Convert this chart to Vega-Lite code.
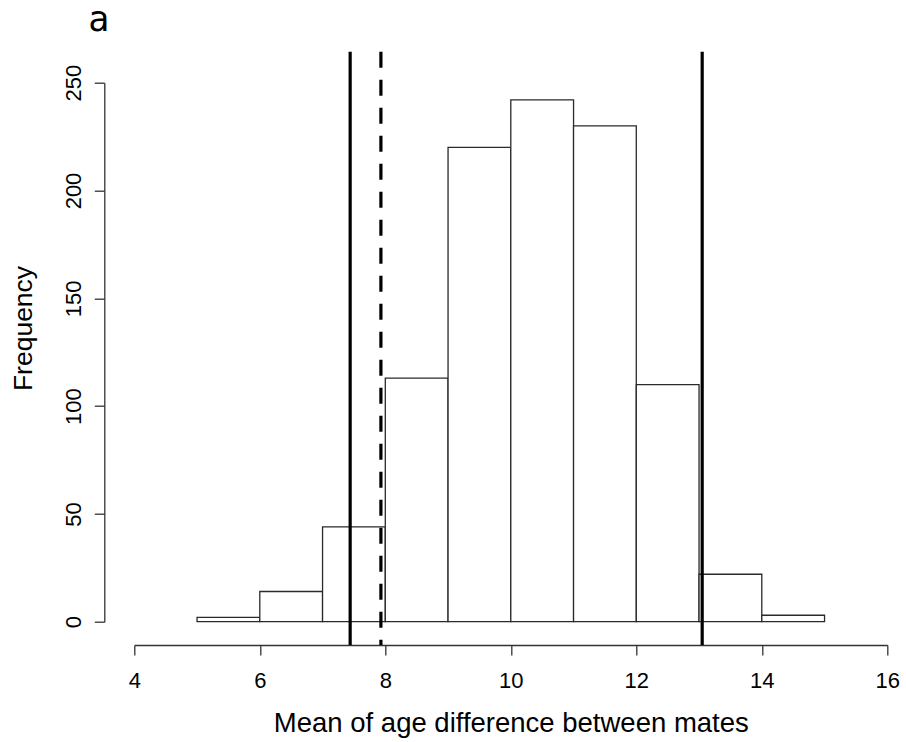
{
  "$schema": "https://vega.github.io/schema/vega-lite/v6.json",
  "autosize": "none",
  "padding": {"left": 134.3, "top": 82.7, "right": 18.7, "bottom": 120.3},
  "width": 753,
  "height": 539,
  "background": "white",
  "config": {
    "view": {"stroke": null},
    "font": "Liberation Sans"
  },
  "title": {
    "text": "a",
    "anchor": "start",
    "frame": "group",
    "orient": "top",
    "font": "DejaVu Sans Mono",
    "fontSize": 35,
    "fontWeight": "normal",
    "color": "#000",
    "baseline": "alphabetic",
    "dx": -46,
    "dy": 34,
    "offset": 18
  },
  "datasets": {
    "bars": [
      {"bin_start": 5, "bin_end": 6, "count": 2},
      {"bin_start": 6, "bin_end": 7, "count": 14},
      {"bin_start": 7, "bin_end": 8, "count": 44},
      {"bin_start": 8, "bin_end": 9, "count": 113},
      {"bin_start": 9, "bin_end": 10, "count": 220},
      {"bin_start": 10, "bin_end": 11, "count": 242},
      {"bin_start": 11, "bin_end": 12, "count": 230},
      {"bin_start": 12, "bin_end": 13, "count": 110},
      {"bin_start": 13, "bin_end": 14, "count": 22},
      {"bin_start": 14, "bin_end": 15, "count": 3}
    ],
    "lines": [
      {"value": 7.44, "kind": "solid"},
      {"value": 7.93, "kind": "dashed"},
      {"value": 13.05, "kind": "solid"}
    ]
  },
  "layer": [
    {
      "data": {"name": "bars"},
      "mark": {"type": "rect", "fill": "white", "stroke": "#2a2a2a", "strokeWidth": 1.3},
      "encoding": {
        "x": {
          "field": "bin_start",
          "type": "quantitative",
          "scale": {"domain": [4, 16], "nice": false, "zero": false},
          "title": "Mean of age difference between mates",
          "axis": {
            "values": [4, 6, 8, 10, 12, 14, 16],
            "format": "d",
            "offset": 23.3,
            "grid": false,
            "domainColor": "#333",
            "domainWidth": 1.3,
            "tickColor": "#333",
            "tickWidth": 1.3,
            "tickSize": 10,
            "labelFont": "Liberation Sans",
            "labelFontSize": 22,
            "labelColor": "#000",
            "labelBaseline": "alphabetic",
            "labelPadding": 32,
            "labelFlush": false,
            "labelOverlap": false,
            "titleFont": "Liberation Sans",
            "titleFontSize": 27.5,
            "titleFontWeight": "normal",
            "titleColor": "#000",
            "titleBaseline": "alphabetic",
            "titleY": 86,
            "titleX": 376.5
          }
        },
        "x2": {"field": "bin_end"},
        "y": {
          "field": "count",
          "type": "quantitative",
          "scale": {"domain": [0, 250], "nice": false},
          "title": "Frequency",
          "axis": {
            "values": [0, 50, 100, 150, 200, 250],
            "format": "d",
            "offset": 30,
            "grid": false,
            "domainColor": "#333",
            "domainWidth": 1.3,
            "tickColor": "#333",
            "tickWidth": 1.3,
            "tickSize": 10,
            "labelAngle": 270,
            "labelAlign": "center",
            "labelBaseline": "alphabetic",
            "labelPadding": 14.3,
            "labelFont": "Liberation Sans",
            "labelFontSize": 22,
            "labelColor": "#000",
            "labelFlush": false,
            "labelOverlap": false,
            "titleFont": "Liberation Sans",
            "titleFontSize": 26.5,
            "titleFontWeight": "normal",
            "titleColor": "#000",
            "titleAngle": 270,
            "titleBaseline": "alphabetic",
            "titleAlign": "center",
            "titleX": -73,
            "titleY": 245.3
          }
        },
        "y2": {"datum": 0}
      }
    },
    {
      "data": {"name": "lines"},
      "transform": [{"filter": "datum.kind === 'solid'"}],
      "mark": {"type": "rule", "stroke": "#000", "strokeWidth": 3.2},
      "encoding": {
        "x": {"field": "value", "type": "quantitative", "title": "Mean of age difference between mates"},
        "y": {"datum": 264.4, "type": "quantitative"},
        "y2": {"datum": -10.8}
      }
    },
    {
      "data": {"name": "lines"},
      "transform": [{"filter": "datum.kind === 'dashed'"}],
      "mark": {"type": "rule", "stroke": "#000", "strokeWidth": 3.2, "strokeDash": [16, 12]},
      "encoding": {
        "x": {"field": "value", "type": "quantitative", "title": "Mean of age difference between mates"},
        "y": {"datum": 264.4, "type": "quantitative"},
        "y2": {"datum": -10.8}
      }
    }
  ]
}
